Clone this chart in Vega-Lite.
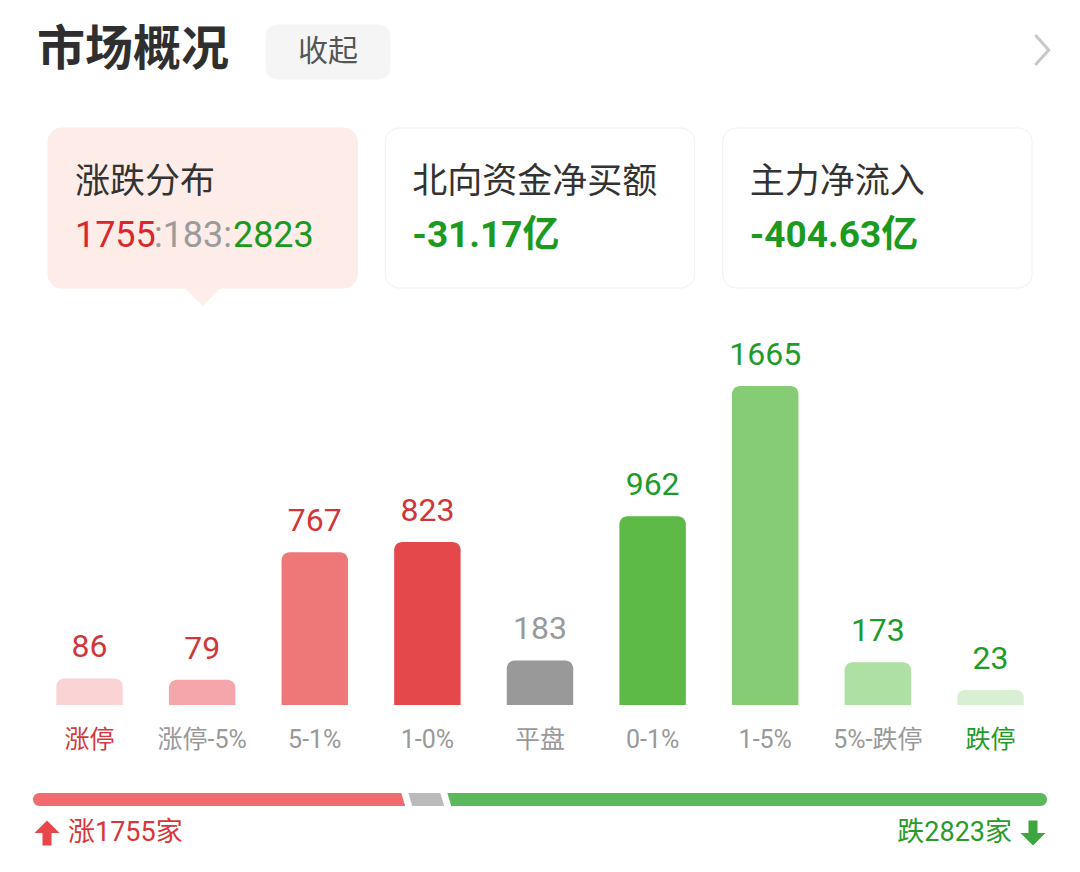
{
  "$schema": "https://vega.github.io/schema/vega-lite/v6.json",
  "background": "#ffffff",
  "padding": 0,
  "spacing": 0,
  "bounds": "flush",
  "center": true,
  "config": {
    "view": {"stroke": null},
    "font": "Roboto, Noto Sans CJK SC"
  },
  "vconcat": [
    {
      "width": 1080,
      "height": 128,
      "data": {"values": [{"item": "市场概况"}, {"item": "收起"}, {"item": "›"}]},
      "layer": [
        {
          "transform": [{"filter": "datum.item === '市场概况'"}],
          "mark": {"type": "text", "align": "left", "baseline": "middle", "dx": 37, "dy": -13, "fontSize": 48, "fontWeight": "bold", "font": "Noto Sans CJK SC", "color": "#2f2f2f"},
          "encoding": {
            "x": {"field": "item", "type": "nominal", "sort": null, "bandPosition": 0, "scale": {"type": "band", "domain": ["市场概况", "收起", "›"], "paddingInner": 0, "paddingOuter": 0}, "axis": null},
            "text": {"field": "item"}
          }
        },
        {
          "transform": [{"filter": "datum.item === '收起'"}],
          "mark": {"type": "point", "shape": "M-0.82,-0.44L0.82,-0.44A0.18,0.18 0 0 1 1,-0.26L1,0.26A0.18,0.18 0 0 1 0.82,0.44L-0.82,0.44A0.18,0.18 0 0 1 -1,0.26L-1,-0.26A0.18,0.18 0 0 1 -0.82,-0.44Z", "size": 15625, "filled": true, "opacity": 1, "color": "#f5f5f5", "xOffset": -32, "yOffset": -12},
          "encoding": {
            "x": {"field": "item", "type": "nominal", "sort": null, "bandPosition": 0, "scale": {"type": "band", "domain": ["市场概况", "收起", "›"], "paddingInner": 0, "paddingOuter": 0}, "axis": null}
          }
        },
        {
          "transform": [{"filter": "datum.item === '收起'"}],
          "mark": {"type": "text", "align": "center", "baseline": "middle", "dx": -32, "dy": -12, "fontSize": 30, "font": "Noto Sans CJK SC", "color": "#555555"},
          "encoding": {
            "x": {"field": "item", "type": "nominal", "sort": null, "bandPosition": 0, "scale": {"type": "band", "domain": ["市场概况", "收起", "›"], "paddingInner": 0, "paddingOuter": 0}, "axis": null},
            "text": {"field": "item"}
          }
        },
        {
          "transform": [{"filter": "datum.item === '›'"}],
          "mark": {"type": "point", "shape": "M-0.45,-1L0.45,0L-0.45,1", "size": 900, "filled": false, "opacity": 1, "stroke": "#c8c8c8", "strokeWidth": 3, "xOffset": -38, "yOffset": -14},
          "encoding": {
            "x": {"field": "item", "type": "nominal", "sort": null, "bandPosition": 1, "scale": {"type": "band", "domain": ["市场概况", "收起", "›"], "paddingInner": 0, "paddingOuter": 0}, "axis": null}
          }
        }
      ]
    },
    {
      "width": 1080,
      "height": 160,
      "data": {"values": [
        {"card": "涨跌分布", "up": "1755", "flat": ":183:", "down": "2823"},
        {"card": "北向资金净买额", "value": "-31.17亿"},
        {"card": "主力净流入", "value": "-404.63亿"}
      ]},
      "layer": [
        {
          "transform": [{"filter": "datum.card !== '涨跌分布'"}],
          "mark": {"type": "rect", "color": "#000000", "opacity": 0.05, "cornerRadius": 14, "yOffset": 5},
          "encoding": {"x": {"field": "card", "type": "nominal", "sort": null, "scale": {"type": "band", "domain": ["涨跌分布", "北向资金净买额", "主力净流入"], "paddingInner": 0.083, "paddingOuter": 0.142}, "axis": null}}
        },
        {
          "transform": [{"filter": "datum.card !== '涨跌分布'"}],
          "mark": {"type": "rect", "color": "#000000", "opacity": 0.04, "cornerRadius": 14, "yOffset": 2},
          "encoding": {"x": {"field": "card", "type": "nominal", "sort": null, "scale": {"type": "band", "domain": ["涨跌分布", "北向资金净买额", "主力净流入"], "paddingInner": 0.083, "paddingOuter": 0.142}, "axis": null}}
        },
        {
          "mark": {"type": "rect", "cornerRadius": 14, "strokeWidth": 1},
          "encoding": {
            "x": {"field": "card", "type": "nominal", "sort": null, "scale": {"type": "band", "domain": ["涨跌分布", "北向资金净买额", "主力净流入"], "paddingInner": 0.083, "paddingOuter": 0.142}, "axis": null},
            "fill": {"condition": {"test": "datum.card === '涨跌分布'", "value": "#fdece8"}, "value": "#ffffff"},
            "stroke": {"condition": {"test": "datum.card === '涨跌分布'", "value": "#fdece8"}, "value": "#f1f1f1"}
          }
        },
        {
          "transform": [{"filter": "datum.card === '涨跌分布'"}],
          "mark": {"type": "point", "shape": "M-1,0L1,0L0,1Z", "size": 1296, "filled": true, "opacity": 1, "color": "#fdeee9", "yOffset": 80},
          "encoding": {"x": {"field": "card", "type": "nominal", "sort": null, "scale": {"type": "band", "domain": ["涨跌分布", "北向资金净买额", "主力净流入"], "paddingInner": 0.083, "paddingOuter": 0.142}, "axis": null}}
        },
        {
          "mark": {"type": "text", "align": "left", "baseline": "middle", "dx": 27, "dy": -26, "fontSize": 35, "font": "Noto Sans CJK SC", "color": "#333333"},
          "encoding": {
            "x": {"field": "card", "type": "nominal", "sort": null, "bandPosition": 0, "scale": {"type": "band", "domain": ["涨跌分布", "北向资金净买额", "主力净流入"], "paddingInner": 0.083, "paddingOuter": 0.142}, "axis": null},
            "text": {"field": "card"}
          }
        },
        {
          "transform": [{"filter": "datum.card === '涨跌分布'"}],
          "mark": {"type": "text", "align": "left", "baseline": "middle", "dx": 27, "dy": 28, "fontSize": 36, "fontWeight": "normal", "color": "#d9272e"},
          "encoding": {
            "x": {"field": "card", "type": "nominal", "sort": null, "bandPosition": 0, "scale": {"type": "band", "domain": ["涨跌分布", "北向资金净买额", "主力净流入"], "paddingInner": 0.083, "paddingOuter": 0.142}, "axis": null},
            "text": {"field": "up"}
          }
        },
        {
          "transform": [{"filter": "datum.card === '涨跌分布'"}],
          "mark": {"type": "text", "align": "left", "baseline": "middle", "dx": 106, "dy": 28, "fontSize": 36, "fontWeight": "normal", "color": "#9b9b9b"},
          "encoding": {
            "x": {"field": "card", "type": "nominal", "sort": null, "bandPosition": 0, "scale": {"type": "band", "domain": ["涨跌分布", "北向资金净买额", "主力净流入"], "paddingInner": 0.083, "paddingOuter": 0.142}, "axis": null},
            "text": {"field": "flat"}
          }
        },
        {
          "transform": [{"filter": "datum.card === '涨跌分布'"}],
          "mark": {"type": "text", "align": "left", "baseline": "middle", "dx": 185, "dy": 28, "fontSize": 36, "fontWeight": "normal", "color": "#1b9a1f"},
          "encoding": {
            "x": {"field": "card", "type": "nominal", "sort": null, "bandPosition": 0, "scale": {"type": "band", "domain": ["涨跌分布", "北向资金净买额", "主力净流入"], "paddingInner": 0.083, "paddingOuter": 0.142}, "axis": null},
            "text": {"field": "down"}
          }
        },
        {
          "transform": [{"filter": "datum.card !== '涨跌分布'"}],
          "mark": {"type": "text", "align": "left", "baseline": "middle", "dx": 27, "dy": 28, "fontSize": 37, "fontWeight": "bold", "color": "#1b9a1f"},
          "encoding": {
            "x": {"field": "card", "type": "nominal", "sort": null, "bandPosition": 0, "scale": {"type": "band", "domain": ["涨跌分布", "北向资金净买额", "主力净流入"], "paddingInner": 0.083, "paddingOuter": 0.142}, "axis": null},
            "text": {"field": "value"}
          }
        }
      ]
    },
    {
      "width": 1080,
      "height": 505,
      "data": {"values": [
        {"cat": "涨停", "count": 86},
        {"cat": "涨停-5%", "count": 79},
        {"cat": "5-1%", "count": 767},
        {"cat": "1-0%", "count": 823},
        {"cat": "平盘", "count": 183},
        {"cat": "0-1%", "count": 962},
        {"cat": "1-5%", "count": 1665},
        {"cat": "5%-跌停", "count": 173},
        {"cat": "跌停", "count": 23}
      ]},
      "encoding": {
        "x": {
          "field": "cat", "type": "nominal", "sort": null,
          "scale": {"type": "band", "paddingInner": 0.41, "paddingOuter": 0.5},
          "axis": {
            "orient": "bottom", "offset": -88, "domain": false, "ticks": false, "grid": false,
            "labelPadding": 22, "labelFontSize": 25, "labelFont": "Roboto, Noto Sans CJK SC", "labelAngle": 0, "title": null,
            "labelColor": {"condition": [{"test": "datum.value === '涨停'", "value": "#d13a3f"}, {"test": "datum.value === '跌停'", "value": "#1f9b2b"}], "value": "#999999"}
          }
        }
      },
      "layer": [
        {
          "mark": {"type": "bar", "cornerRadiusTopLeft": 8, "cornerRadiusTopRight": 8},
          "encoding": {
            "y": {"field": "count", "type": "quantitative", "scale": {"domain": [-533, 2195], "nice": false, "zero": false}, "axis": null},
            "y2": {"datum": -58},
            "color": {
              "field": "cat", "type": "nominal", "sort": null, "legend": null,
              "scale": {
                "domain": ["涨停", "涨停-5%", "5-1%", "1-0%", "平盘", "0-1%", "1-5%", "5%-跌停", "跌停"],
                "range": ["#fad4d4", "#f4a6aa", "#ee7777", "#e5484a", "#999999", "#5dba46", "#86cc74", "#ade0a2", "#d9efd3"]
              }
            }
          }
        },
        {
          "mark": {"type": "text", "baseline": "alphabetic", "dy": -21, "fontSize": 32, "font": "Roboto"},
          "encoding": {
            "y": {"field": "count", "type": "quantitative"},
            "text": {"field": "count", "type": "quantitative", "format": "d"},
            "color": {
              "field": "cat", "type": "nominal", "sort": null, "legend": null,
              "scale": {
                "domain": ["涨停", "涨停-5%", "5-1%", "1-0%", "平盘", "0-1%", "1-5%", "5%-跌停", "跌停"],
                "range": ["#d0363b", "#d0363b", "#d0363b", "#d0363b", "#9a9a9a", "#1f9b2b", "#1f9b2b", "#1f9b2b", "#1f9b2b"]
              }
            }
          }
        }
      ],
      "resolve": {"scale": {"color": "independent"}}
    },
    {
      "width": 1014,
      "height": 13,
      "data": {"values": [
        {"seg": "涨", "count": 1755, "order": 1},
        {"seg": "平", "count": 183, "order": 2},
        {"seg": "跌", "count": 2823, "order": 3}
      ]},
      "transform": [{"stack": "count", "groupby": [], "sort": [{"field": "order", "order": "ascending"}], "as": ["x0", "x1"]}],
      "layer": [
        {
          "transform": [{"filter": "datum.seg === '涨'"}],
          "mark": {"type": "rect", "color": "#f26b6e", "cornerRadiusTopLeft": 6.5, "cornerRadiusBottomLeft": 6.5},
          "encoding": {
            "x": {"field": "x0", "type": "quantitative", "scale": {"domain": [0, 4761], "nice": false, "zero": false}, "axis": null},
            "x2": {"field": "x1"}
          }
        },
        {
          "transform": [{"filter": "datum.seg === '平'"}],
          "mark": {"type": "rect", "color": "#bbbbbb"},
          "encoding": {
            "x": {"field": "x0", "type": "quantitative", "scale": {"domain": [0, 4761], "nice": false, "zero": false}, "axis": null},
            "x2": {"field": "x1"}
          }
        },
        {
          "transform": [{"filter": "datum.seg === '跌'"}],
          "mark": {"type": "rect", "color": "#5cb85c", "cornerRadiusTopRight": 6.5, "cornerRadiusBottomRight": 6.5},
          "encoding": {
            "x": {"field": "x0", "type": "quantitative", "scale": {"domain": [0, 4761], "nice": false, "zero": false}, "axis": null},
            "x2": {"field": "x1"}
          }
        },
        {
          "transform": [{"filter": "datum.seg !== '跌'"}],
          "mark": {"type": "point", "shape": "M-0.74,-1L0.14,-1L0.74,1L-0.14,1Z", "size": 256, "filled": true, "opacity": 1, "color": "#ffffff"},
          "encoding": {
            "x": {"field": "x1", "type": "quantitative", "scale": {"domain": [0, 4761], "nice": false, "zero": false}, "axis": null}
          }
        }
      ]
    },
    {
      "width": 1014,
      "height": 60,
      "data": {"values": [
        {"side": "涨", "label": "涨1755家"},
        {"side": "跌", "label": "跌2823家"}
      ]},
      "layer": [
        {
          "transform": [{"filter": "datum.side === '涨'"}],
          "mark": {"type": "point", "shape": "M0,-1L1,0L0.36,0L0.36,1L-0.36,1L-0.36,0L-1,0Z", "size": 625, "filled": true, "opacity": 1, "color": "#e8464b", "xOffset": 14, "yOffset": -3},
          "encoding": {"x": {"field": "side", "type": "nominal", "sort": null, "bandPosition": 0, "scale": {"type": "band", "domain": ["涨", "跌"], "paddingInner": 0, "paddingOuter": 0}, "axis": null}}
        },
        {
          "transform": [{"filter": "datum.side === '涨'"}],
          "mark": {"type": "text", "align": "left", "baseline": "middle", "dx": 35, "dy": -3, "fontSize": 27, "color": "#d8363b"},
          "encoding": {
            "x": {"field": "side", "type": "nominal", "sort": null, "bandPosition": 0, "scale": {"type": "band", "domain": ["涨", "跌"], "paddingInner": 0, "paddingOuter": 0}, "axis": null},
            "text": {"field": "label"}
          }
        },
        {
          "transform": [{"filter": "datum.side === '跌'"}],
          "mark": {"type": "point", "shape": "M0,1L1,0L0.36,0L0.36,-1L-0.36,-1L-0.36,0L-1,0Z", "size": 625, "filled": true, "opacity": 1, "color": "#3ea63e", "xOffset": -14, "yOffset": -3},
          "encoding": {"x": {"field": "side", "type": "nominal", "sort": null, "bandPosition": 1, "scale": {"type": "band", "domain": ["涨", "跌"], "paddingInner": 0, "paddingOuter": 0}, "axis": null}}
        },
        {
          "transform": [{"filter": "datum.side === '跌'"}],
          "mark": {"type": "text", "align": "right", "baseline": "middle", "dx": -35, "dy": -3, "fontSize": 27, "color": "#2a9a2a"},
          "encoding": {
            "x": {"field": "side", "type": "nominal", "sort": null, "bandPosition": 1, "scale": {"type": "band", "domain": ["涨", "跌"], "paddingInner": 0, "paddingOuter": 0}, "axis": null},
            "text": {"field": "label"}
          }
        }
      ]
    }
  ]
}
